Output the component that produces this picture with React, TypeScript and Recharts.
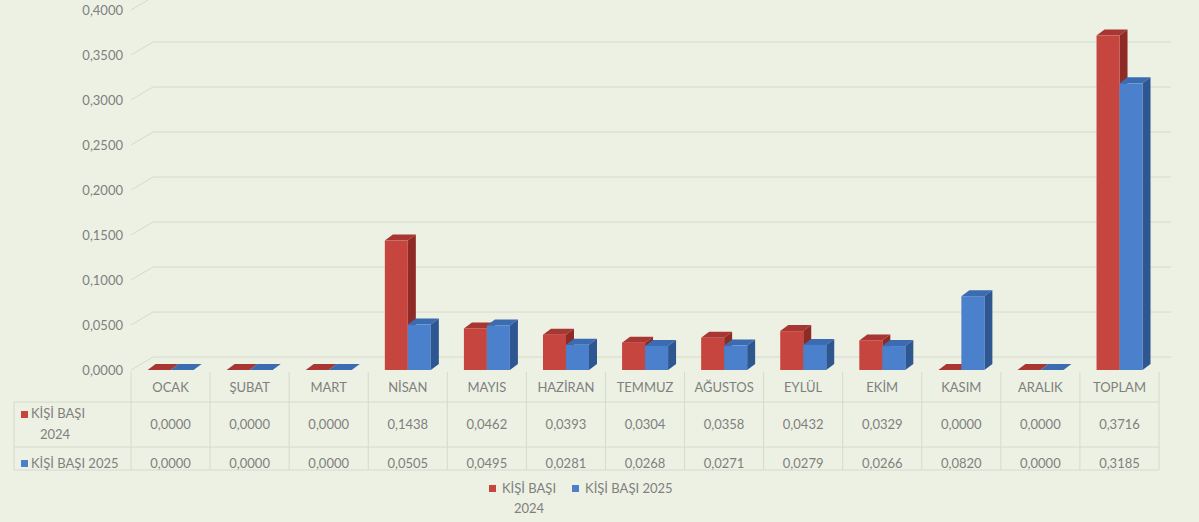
import React from "react";
import { BarChart, Bar, XAxis, YAxis, CartesianGrid } from "recharts";

const MONTHS = [
  "OCAK", "ŞUBAT", "MART", "NİSAN", "MAYIS", "HAZİRAN", "TEMMUZ",
  "AĞUSTOS", "EYLÜL", "EKİM", "KASIM", "ARALIK", "TOPLAM",
];
const KISI_2024 = [0, 0, 0, 0.1438, 0.0462, 0.0393, 0.0304, 0.0358, 0.0432, 0.0329, 0, 0, 0.3716];
const KISI_2025 = [0, 0, 0, 0.0505, 0.0495, 0.0281, 0.0268, 0.0271, 0.0279, 0.0266, 0.082, 0, 0.3185];
const Y_TICKS = [0, 0.05, 0.1, 0.15, 0.2, 0.25, 0.3, 0.35, 0.4];

const SERIES = [
  { key: "y2024", name: "KİŞİ BAŞI 2024", front: "#c6463f", side: "#8e2b27", top: "#a83632" },
  { key: "y2025", name: "KİŞİ BAŞI 2025", front: "#4a80cc", side: "#2e5691", top: "#3b6bb0" },
];

const W = 1199;
const H = 522;
const LEFT = 131;
const RIGHT = 40;
const COL = (W - LEFT - RIGHT) / MONTHS.length;
const TEXT = "#7f7f7f";
const LINE = "#d6d9cc";
const FONT = "Lato, 'Open Sans', sans-serif";
const FS = 13;

const fmt = (v: number) => v.toFixed(4).replace(".", ",");

const data = MONTHS.map((m, i) => ({ month: m, y2024: KISI_2024[i], y2025: KISI_2025[i] }));

// fake 3D column: front face, darker right side, top lid
const Bar3D = (colors: { front: string; side: string; top: string }) => (props: any) => {
  const { x, y, width, height } = props;
  const d = 8;
  const dy = 6;
  const h = Math.max(height || 0, 0);
  return (
    <g>
      <polygon
        points={`${x},${y} ${x + d},${y - dy} ${x + width + d},${y - dy} ${x + width},${y}`}
        fill={colors.top}
      />
      <polygon
        points={`${x + width},${y} ${x + width + d},${y - dy} ${x + width + d},${y + h - dy} ${x + width},${y + h}`}
        fill={colors.side}
      />
      {h > 0 && <rect x={x} y={y} width={width} height={h} fill={colors.front} />}
    </g>
  );
};

// back-wall grid line with the slanted side-wall stub
const GridLine = (props: any) => {
  const { x1, x2, y1 } = props;
  const sx = 22;
  const sy = 13;
  return (
    <g key={`g-${y1}`} stroke={LINE} fill="none">
      <polyline points={`${x1},${y1} ${x1 + sx},${y1 - sy} ${x2 + 12},${y1 - sy}`} />
    </g>
  );
};

const TableTick = (props: any) => {
  const { x, y, payload } = props;
  const i = payload.index;
  const l = x - COL / 2;
  const r = x + COL / 2;
  return (
    <g fontFamily={FONT} fontSize={FS} fill={TEXT}>
      <line x1={l} y1={y} x2={l} y2={y + 98} stroke={LINE} />
      {i === MONTHS.length - 1 && <line x1={r} y1={y} x2={r} y2={y + 98} stroke={LINE} />}
      <line x1={l} y1={y + 30} x2={r} y2={y + 30} stroke={LINE} />
      <line x1={l} y1={y + 75} x2={r} y2={y + 75} stroke={LINE} />
      <line x1={l} y1={y + 98} x2={r} y2={y + 98} stroke={LINE} />
      <text x={x} y={y + 20} textAnchor="middle">{payload.value}</text>
      <text x={x} y={y + 57} textAnchor="middle">{fmt(KISI_2024[i])}</text>
      <text x={x} y={y + 96} textAnchor="middle">{fmt(KISI_2025[i])}</text>
      {i === 0 && (
        <g>
          <line x1={14} y1={y + 30} x2={l} y2={y + 30} stroke={LINE} />
          <line x1={14} y1={y + 75} x2={l} y2={y + 75} stroke={LINE} />
          <line x1={14} y1={y + 98} x2={l} y2={y + 98} stroke={LINE} />
          <line x1={14} y1={y + 30} x2={14} y2={y + 98} stroke={LINE} />
          <rect x={21} y={y + 39} width={7} height={7} fill={SERIES[0].front} />
          <text x={31} y={y + 46}>KİŞİ BAŞI</text>
          <text x={40} y={y + 67}>2024</text>
          <rect x={21} y={y + 88} width={7} height={7} fill={SERIES[1].front} />
          <text x={31} y={y + 96}>KİŞİ BAŞI 2025</text>
        </g>
      )}
    </g>
  );
};

export default function App() {
  return (
    <div style={{ position: "absolute", left: 0, top: 0, width: W, height: H, background: "#edf1e3" }}>
      <BarChart
        width={W}
        height={H}
        data={data}
        margin={{ top: 10, right: RIGHT, left: 0, bottom: 52 }}
        barCategoryGap="21%"
        barGap={0}
      >
        <CartesianGrid vertical={false} horizontal={GridLine} />
        <YAxis
          width={LEFT}
          domain={[0, 0.4]}
          ticks={Y_TICKS}
          tickFormatter={fmt}
          axisLine={false}
          tickLine={false}
          tickSize={0}
          tickMargin={8}
          tick={{ fill: TEXT, fontSize: FS, fontFamily: FONT }}
        />
        <XAxis
          dataKey="month"
          height={100}
          axisLine={false}
          tickLine={false}
          tickSize={0}
          interval={0}
          tick={<TableTick />}
        />
        {SERIES.map((s) => (
          <Bar
            key={s.key}
            dataKey={s.key}
            name={s.name}
            isAnimationActive={false}
            shape={Bar3D(s)}
          />
        ))}
      </BarChart>
      <div
        style={{
          position: "absolute",
          left: 489,
          top: 478,
          display: "flex",
          gap: 16,
          fontFamily: FONT,
          fontSize: FS,
          color: TEXT,
          lineHeight: "20px",
        }}
      >
        <div style={{ display: "flex", alignItems: "flex-start" }}>
          <span style={{ width: 7, height: 7, background: SERIES[0].front, marginTop: 7, marginRight: 6, flexShrink: 0 }} />
          <span style={{ textAlign: "center", whiteSpace: "nowrap" }}>
            KİŞİ BAŞI
            <br />
            2024
          </span>
        </div>
        <div style={{ display: "flex", alignItems: "flex-start" }}>
          <span style={{ width: 7, height: 7, background: SERIES[1].front, marginTop: 7, marginRight: 6, flexShrink: 0 }} />
          <span style={{ whiteSpace: "nowrap" }}>KİŞİ BAŞI 2025</span>
        </div>
      </div>
    </div>
  );
}
